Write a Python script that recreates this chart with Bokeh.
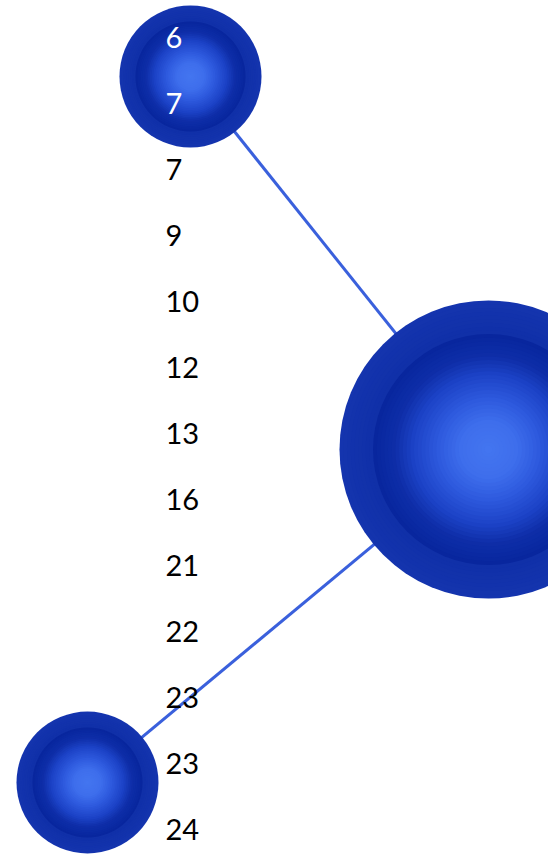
import numpy as np
from bokeh.plotting import figure
from bokeh.models import Range1d, ColumnDataSource
from bokeh.core.properties import value
from bokeh.embed import file_html
from bokeh.resources import INLINE

# ---- data ----
node_names = ["hub", "top", "bottom"]
node_x = [488, 190, 87]
node_y = [449, 76, 782]
node_r = [149, 71, 71]
edge_from = ["top", "hub"]
edge_to = ["hub", "bottom"]

label_values = ["6", "7", "7", "9", "10", "12", "13", "16", "21", "22", "23", "23", "24"]
label_colors = ["white", "white"] + ["black"] * 11

W, H = 548, 855
p = figure(width=W, height=H, output_backend="svg", toolbar_location=None,
           x_range=Range1d(0, W), y_range=Range1d(H, 0), min_border=0)
p.axis.visible = False
p.grid.visible = False
p.outline_line_color = None
p.background_fill_color = "white"

idx = {n: i for i, n in enumerate(node_names)}
xs = [[node_x[idx[a]], node_x[idx[b]]] for a, b in zip(edge_from, edge_to)]
ys = [[node_y[idx[a]], node_y[idx[b]]] for a, b in zip(edge_from, edge_to)]
p.multi_line(xs=xs, ys=ys, line_color="#3a60dc", line_width=3)

# radial gradient via concentric circles
stops = [(0.0, (0x44, 0x76, 0xf0)), (0.2, (0x3e, 0x6e, 0xec)), (0.35, (0x2e, 0x5a, 0xde)),
         (0.52, (0x1c, 0x42, 0xc6)), (0.64, (0x0e, 0x2e, 0xa8)), (0.78, (0x08, 0x26, 0x9e)),
         (0.8, (0x10, 0x30, 0xa8)), (1.0, (0x14, 0x34, 0xae))]

def col(t):
    for (t0, c0), (t1, c1) in zip(stops[:-1], stops[1:]):
        if t0 <= t <= t1:
            f = (t - t0) / (t1 - t0) if t1 > t0 else 0
            c = [int(round(a + (b - a) * f)) for a, b in zip(c0, c1)]
            return "#%02x%02x%02x" % tuple(c)
    return "#%02x%02x%02x" % stops[-1][1]

N = 40
cx, cy, cr, cc = [], [], [], []
for k in range(N):
    t = 1 - k / N
    for i in range(len(node_names)):
        cx.append(node_x[i]); cy.append(node_y[i]); cr.append(node_r[i] * t); cc.append(col(t))
p.circle(x=cx, y=cy, radius=cr, fill_color=cc, line_color=None)

ly = [37 + 66.0 * i for i in range(len(label_values))]
src = ColumnDataSource(dict(x=[165] * len(label_values), y=ly, t=label_values, c=label_colors))
p.text(x="x", y="y", text="t", text_color="c", source=src, text_font=value("Lato"),
       text_font_size="29px", text_baseline="middle", text_align="left")

open("out.html", "w").write(file_html(p, INLINE))
